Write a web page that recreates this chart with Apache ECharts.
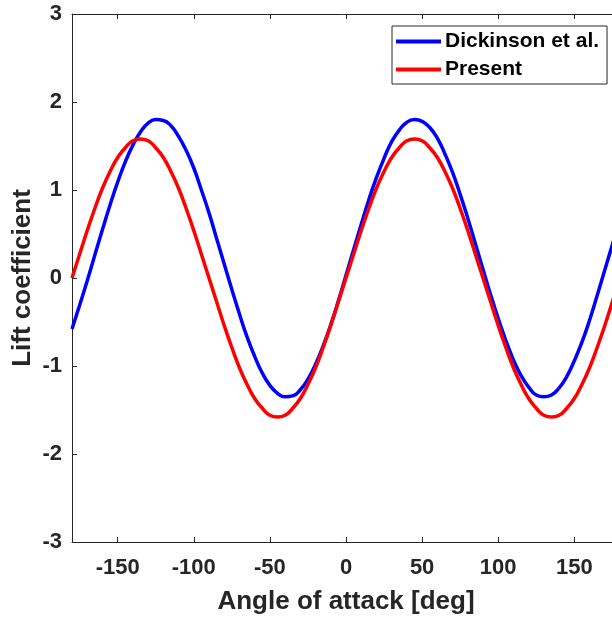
<!DOCTYPE html>
<html>
<head>
<meta charset="utf-8">
<script src="https://cdn.jsdelivr.net/npm/echarts@6/dist/echarts.min.js"></script>
<style>
  html, body { margin: 0; padding: 0; background: #fff; }
  #chart { width: 612px; height: 620px; }
</style>
</head>
<body>
<div id="chart"></div>
<script>
// angle of attack [deg], sampled every 5 deg
const angles = [-180, -175, -170, -165, -160, -155, -150, -145, -140, -135, -130, -125, -120, -115, -110, -105, -100, -95, -90,
  -85, -80, -75, -70, -65, -60, -55, -50, -45, -40, -35, -30, -25, -20, -15, -10, -5, 0,
  5, 10, 15, 20, 25, 30, 35, 40, 45, 50, 55, 60, 65, 70, 75, 80, 85, 90,
  95, 100, 105, 110, 115, 120, 125, 130, 135, 140, 145, 150, 155, 160, 165, 170, 175, 180]

// lift coefficient
const dickinsonCL = [-0.58, -0.31, -0.03, 0.26, 0.55, 0.83, 1.09, 1.32, 1.51, 1.66, 1.76, 1.80, 1.79, 1.73, 1.61, 1.45, 1.25, 1.00, 0.74,
  0.45, 0.16, -0.13, -0.41, -0.67, -0.89, -1.08, -1.22, -1.31, -1.35, -1.34, -1.27, -1.15, -0.98, -0.77, -0.53, -0.26, 0.03,
  0.32, 0.61, 0.89, 1.14, 1.36, 1.55, 1.68, 1.77, 1.80, 1.78, 1.71, 1.59, 1.41, 1.20, 0.95, 0.68, 0.39, 0.10,
  -0.19, -0.46, -0.71, -0.93, -1.11, -1.24, -1.33, -1.35, -1.33, -1.25, -1.12, -0.94, -0.73, -0.48, -0.20, 0.09, 0.38, 0.67]

const presentCL = [0, 0.27, 0.54, 0.79, 1.02, 1.21, 1.37, 1.48, 1.56, 1.58, 1.56, 1.48, 1.37, 1.21, 1.02, 0.79, 0.54, 0.27, 0,
  -0.27, -0.54, -0.79, -1.02, -1.21, -1.37, -1.48, -1.56, -1.58, -1.56, -1.48, -1.37, -1.21, -1.02, -0.79, -0.54, -0.27, 0,
  0.27, 0.54, 0.79, 1.02, 1.21, 1.37, 1.48, 1.56, 1.58, 1.56, 1.48, 1.37, 1.21, 1.02, 0.79, 0.54, 0.27, 0,
  -0.27, -0.54, -0.79, -1.02, -1.21, -1.37, -1.48, -1.56, -1.58, -1.56, -1.48, -1.37, -1.21, -1.02, -0.79, -0.54, -0.27, 0]

const xTicks = [-150, -100, -50, 0, 50, 100, 150]
const seriesNames = ['Dickinson et al.', 'Present']

const font = 'Liberation Sans, Arial, sans-serif'
const axisColor = '#262626'

const mychart = echarts.init(document.getElementById('chart'))

const pairs = (xs, ys) => xs.map((x, i) => [x, ys[i]])

mychart.setOption({
  animation: false,
  // the axes box runs a little past the right edge of the picture
  grid: { left: 72, top: 14, width: 548, height: 528, outerBoundsMode: 'none', containLabel: false },
  legend: {
    orient: 'vertical',
    left: 392,
    top: 26,
    padding: [5, 8, 4, 4],
    itemGap: 7,
    itemWidth: 45,
    itemHeight: 4,
    icon: 'rect',
    borderColor: axisColor,
    borderWidth: 1,
    backgroundColor: '#fff',
    textStyle: { fontFamily: font, fontWeight: 'bold', fontSize: 21, color: '#000', padding: [0, 0, 0, -1] },
    data: seriesNames
  },
  xAxis: [
    {
      type: 'value',
      min: -180,
      max: 180,
      name: 'Angle of attack [deg]',
      nameLocation: 'middle',
      nameGap: 47,
      nameTextStyle: { fontFamily: font, fontWeight: 'bold', fontSize: 26, color: axisColor },
      axisLine: { onZero: false, lineStyle: { color: axisColor, width: 1 } },
      axisTick: { inside: true, length: 5, customValues: xTicks, lineStyle: { color: axisColor } },
      axisLabel: { customValues: xTicks, margin: 15, fontFamily: font, fontWeight: 'bold', fontSize: 22, color: axisColor },
      splitLine: { show: false }
    },
    {
      type: 'value',
      position: 'top',
      min: -180,
      max: 180,
      axisLine: { onZero: false, lineStyle: { color: axisColor, width: 1 } },
      axisTick: { inside: true, length: 5, customValues: xTicks, lineStyle: { color: axisColor } },
      axisLabel: { show: false },
      splitLine: { show: false }
    }
  ],
  yAxis: {
    type: 'value',
    min: -3,
    max: 3,
    interval: 1,
    name: 'Lift coefficient',
    nameLocation: 'middle',
    nameGap: 36,
    nameMoveOverlap: false,
    nameTextStyle: { fontFamily: font, fontWeight: 'bold', fontSize: 26, color: axisColor },
    axisLine: { show: true, onZero: false, lineStyle: { color: axisColor, width: 1 } },
    axisTick: { show: true, inside: true, length: 5, lineStyle: { color: axisColor } },
    axisLabel: { margin: 10, fontFamily: font, fontWeight: 'bold', fontSize: 22, color: axisColor },
    splitLine: { show: false }
  },
  series: [
    {
      name: seriesNames[0],
      type: 'line',
      smooth: true,
      symbol: 'none',
      lineStyle: { color: '#0000ff', width: 3.5 },
      itemStyle: { color: '#0000ff' },
      data: pairs(angles, dickinsonCL)
    },
    {
      name: seriesNames[1],
      type: 'line',
      smooth: true,
      symbol: 'none',
      lineStyle: { color: '#ff0000', width: 3.5 },
      itemStyle: { color: '#ff0000' },
      data: pairs(angles, presentCL)
    }
  ]
})
</script>
</body>
</html>
